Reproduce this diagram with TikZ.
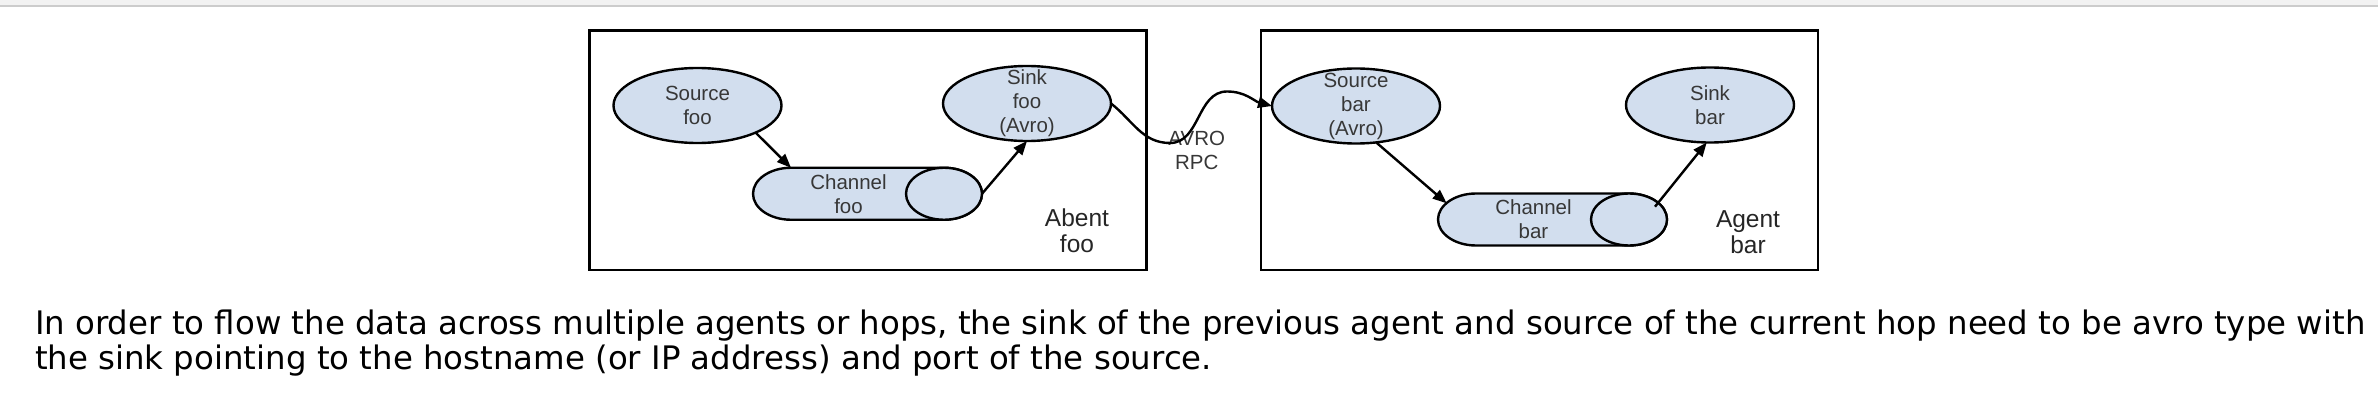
\documentclass[tikz,border=0pt]{standalone}
\usepackage{fontspec}
\setmainfont{Liberation Sans}
\newfontfamily\parafont{DejaVu Sans}
\usetikzlibrary{shapes.geometric,arrows.meta}
\definecolor{nodefill}{RGB}{210,222,238}
\definecolor{nodetext}{RGB}{55,55,55}
\definecolor{topgray}{RGB}{242,242,242}
\definecolor{topline}{RGB}{204,204,204}
\begin{document}
\begin{tikzpicture}[x=1pt,y=1pt,
  every node/.style={inner sep=0pt, outer sep=0pt},
  agentbox/.style={draw=black, line width=2.6pt, minimum width=557pt, minimum height=239.5pt},
  flume/.style={ellipse, draw=black, line width=2.4pt, fill=nodefill, minimum width=168pt, minimum height=75pt},
  nodetxt/.style={align=center, font=\fontsize{20.5}{24}\selectfont, text=nodetext},
  chanbox/.style={rectangle, minimum width=229pt, minimum height=52pt},
  chanline/.style={draw=black, line width=2.4pt, fill=nodefill},
  boxlabel/.style={align=center, font=\fontsize{24.5}{26}\selectfont, text=black!85},
  arr/.style={-{Triangle[length=14pt,width=11pt]}, line width=2.4pt, draw=black},
  para/.style={anchor=base west, font=\parafont\fontsize{32.4}{35}\selectfont, text=black},
]
\useasboundingbox (0,0) rectangle (2378,402);
\fill[white] (0,0) rectangle (2378,402);
\fill[topgray] (0,396) rectangle (2378,402);
\draw[topline, line width=2pt] (0,395.5) -- (2378,395.5);

% agent boxes
\node[agentbox] (boxfoo) at (868,251.75) {};
\node[agentbox] (boxbar) at (1539.5,251.75) {};

% ellipses
\node[flume, label={[nodetxt]center:Source\\foo}] (srcfoo) at (697.5,296.5) {};
\node[flume, label={[nodetxt]center:Sink\\foo\\(Avro)}] (sinkfoo) at (1027,298.5) {};
\node[flume, label={[nodetxt]center:Source\\bar\\(Avro)}] (srcbar) at (1356,296) {};
\node[flume, label={[nodetxt]center:Sink\\bar}] (sinkbar) at (1710,297) {};

% channels
\node[chanbox] (chfoo) at (867.5,208.25) {};
\draw[chanline] ([xshift=38pt]chfoo.north west) -- ([xshift=-38pt]chfoo.north east)
  arc[start angle=90,end angle=-90,x radius=38pt,y radius=26pt]
  -- ([xshift=38pt]chfoo.south west)
  arc[start angle=270,end angle=90,x radius=38pt,y radius=26pt] -- cycle;
\draw[chanline] ([xshift=-38pt]chfoo.east) ellipse[x radius=38pt, y radius=26pt];
\node[nodetxt] (chfootxt) at ([xshift=-19pt]chfoo.center) {Channel\\foo};

\node[chanbox] (chbar) at (1552.5,182.5) {};
\draw[chanline] ([xshift=38pt]chbar.north west) -- ([xshift=-38pt]chbar.north east)
  arc[start angle=90,end angle=-90,x radius=38pt,y radius=26pt]
  -- ([xshift=38pt]chbar.south west)
  arc[start angle=270,end angle=90,x radius=38pt,y radius=26pt] -- cycle;
\draw[chanline] ([xshift=-38pt]chbar.east) ellipse[x radius=38pt, y radius=26pt];
\node[nodetxt] (chbartxt) at ([xshift=-19pt]chbar.center) {Channel\\bar};

% box labels
\node[boxlabel] (lblfoo) at (1077,171) {Abent\\foo};
\node[boxlabel] (lblbar) at (1748,169.5) {Agent\\bar};
\node[nodetxt] (rpc) at (1196.7,252) {AVRO\\RPC};

% connectors
\draw[arr] (srcfoo.-25) -- ([xshift=38pt]chfoo.north west);
\draw[arr] (chfoo.east) -- (sinkfoo.south);
\draw[arr] (srcbar.-61) -- ([xshift=8.7pt,yshift=16.2pt]chbar.west);
\draw[arr] ([xshift=-12pt,yshift=12.8pt]chbar.east) -- (sinkbar.-95);
\draw[arr] (sinkfoo.east) to[out=-38,in=180] (1170,259) to[out=0,in=180] (1227,310.5) to[out=0,in=165] (srcbar.west);

% paragraph
\node[para] (para1) at (35,67) {In order to flow the data across multiple agents or hops, the sink of the previous agent and source of the current hop need to be avro type with};
\node[para] (para2) at (35,33) {the sink pointing to the hostname (or IP address) and port of the source.};
\end{tikzpicture}
\end{document}
